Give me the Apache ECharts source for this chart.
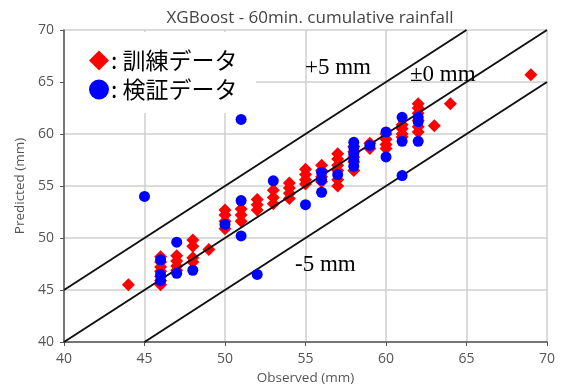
<!DOCTYPE html>
<html><head><meta charset="utf-8">
<script src="https://cdn.jsdelivr.net/npm/echarts@6/dist/echarts.min.js"></script>
<style>html,body{margin:0;padding:0;background:#fff}#c{width:562px;height:390px}</style>
</head><body><div id="c"></div>
<script>
const titleText = 'XGBoost - 60min. cumulative rainfall';
const xName = 'Observed (mm)';
const yName = 'Predicted (mm)';
const trainName = ': 訓練データ';
const testName = ': 検証データ';
const axisMin = 40, axisMax = 70, axisStep = 5;

const trainData = [
  [44,45.5],
  [46,48.2],[46,47.7],[46,47.2],[46,46.8],[46,46.3],[46,45.9],[46,45.5],
  [47,48.3],[47,47.8],[47,47.3],[47,46.9],
  [48,49.8],[48,49.2],[48,48.1],[48,47.7],
  [49,48.9],
  [50,52.7],[50,52.2],[50,51.6],[50,50.9],
  [51,52.8],[51,52.2],[51,51.6],
  [52,53.7],[52,53.2],[52,52.7],
  [53,54.6],[53,53.9],[53,53.3],
  [54,55.3],[54,54.8],[54,54.3],[54,53.8],
  [55,56.6],[55,56.1],[55,55.6],[55,55.2],
  [56,57.0],[56,56.5],[56,55.9],[56,55.4],
  [57,58.1],[57,57.6],[57,57.0],[57,56.5],[57,55.6],[57,55.0],
  [58,58.8],[58,58.3],[58,57.8],[58,57.3],[58,56.5],
  [59,59.1],[59,58.6],
  [60,60.0],[60,59.5],[60,59.0],[60,58.6],
  [61,60.9],[61,60.5],[61,60.0],[61,59.7],
  [62,62.9],[62,62.5],[62,62.0],[62,61.3],[62,60.7],[62,60.2],
  [63,60.8],
  [64,62.9],
  [69,65.7]
];
const testData = [
  [45,54.0],
  [46,47.9],[46,46.5],[46,45.9],
  [47,49.6],[47,46.6],
  [48,46.9],
  [50,51.3],
  [51,61.4],[51,53.6],[51,50.2],
  [52,46.5],
  [53,55.5],
  [55,53.2],
  [56,56.3],[56,55.6],[56,54.4],
  [57,56.1],
  [58,59.2],[58,58.7],[58,58.1],[58,57.5],[58,56.9],
  [59,58.9],
  [60,60.2],[60,57.8],
  [61,61.6],[61,59.3],[61,56.0],
  [62,61.6],[62,61.2],[62,59.3]
];
const linePlus5 = [[40,45],[65,70]];
const lineZero = [[40,40],[70,70]];
const lineMinus5 = [[45,40],[70,65]];
const annotations = [
  {text:'+5 mm', x:305, y:70},
  {text:'±0 mm', x:410, y:77},
  {text:'-5 mm', x:295, y:267}
];

const chart = echarts.init(document.getElementById('c'));
const axisCommon = {
  type:'value', min:axisMin, max:axisMax, interval:axisStep,
  nameLocation:'middle',
  nameTextStyle:{color:'#555', fontSize:13.5, fontFamily:'Open Sans'},
  axisLine:{show:true, lineStyle:{color:'#555', width:1.5}},
  axisTick:{show:true, length:4, lineStyle:{color:'#555'}},
  axisLabel:{color:'#555', fontSize:14, fontFamily:'Open Sans'},
  splitLine:{show:true, lineStyle:{color:'#cfcfcf', width:1.5}}
};
const refLine = d => ({type:'line', data:d, symbol:'none', z:3,
  lineStyle:{color:'#111', width:2}, silent:true});
chart.setOption({
  animation:false,
  title:{text:titleText, left:305, top:5, textAlign:'center',
    textStyle:{color:'#444', fontSize:17, fontWeight:'normal', fontFamily:'Open Sans'}},
  grid:{left:64, right:15, top:30, bottom:48},
  xAxis:Object.assign({}, axisCommon, {name:xName, nameGap:29,
    axisLabel:Object.assign({}, axisCommon.axisLabel, {margin:10})}),
  yAxis:Object.assign({}, axisCommon, {name:yName, nameGap:33,
    axisLabel:Object.assign({}, axisCommon.axisLabel, {margin:10})}),
  legend:{orient:'vertical', left:89, top:49, itemWidth:20, itemHeight:20, itemGap:6,
    padding:0, z:10,
    textStyle:{color:'#000', fontSize:23, fontFamily:'Noto Sans CJK JP', padding:[0,0,0,-3]},
    data:[{name:trainName, icon:'diamond'},{name:testName, icon:'circle'}]},
  graphic:[
    {type:'rect', shape:{x:65, y:32, width:191, height:81}, style:{fill:'#fff'}, z:1, silent:true}
  ].concat(annotations.map(a => ({type:'text', left:a.x, top:a.y-14, z:5,
    style:{text:a.text, fill:'#000', font:'23px "Liberation Serif"'}}))),
  series:[
    {name:trainName, type:'scatter', data:trainData, symbol:'diamond', symbolSize:13,
      itemStyle:{color:'#ff0000', opacity:1}, z:2},
    refLine(linePlus5), refLine(lineZero), refLine(lineMinus5),
    {name:testName, type:'scatter', data:testData, symbol:'circle', symbolSize:11,
      itemStyle:{color:'#0000ff', opacity:1}, z:4}
  ]
});
</script></body></html>
